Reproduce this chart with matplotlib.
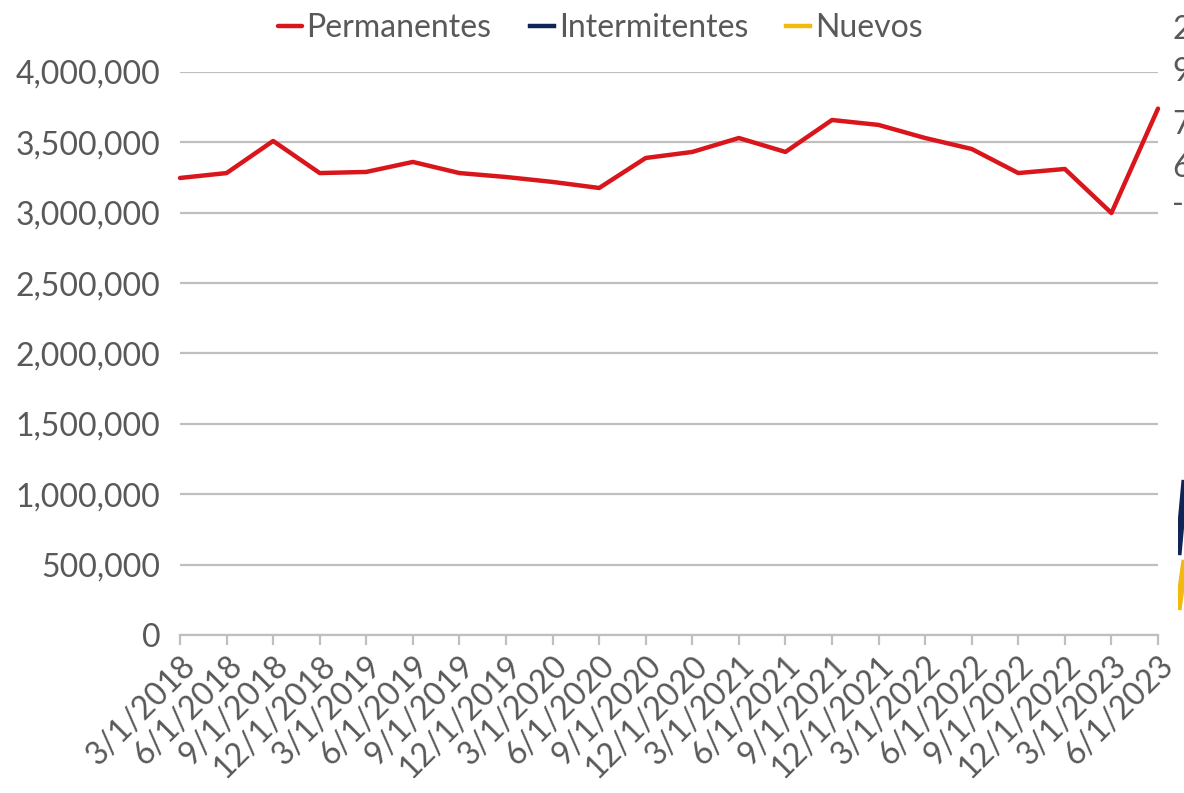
import matplotlib
matplotlib.use("Agg")
import matplotlib.pyplot as plt
from matplotlib.ticker import FuncFormatter

plt.rcParams['font.family'] = ['Lato', 'DejaVu Sans']

fechas = ["3/1/2018", "6/1/2018", "9/1/2018", "12/1/2018",
          "3/1/2019", "6/1/2019", "9/1/2019", "12/1/2019",
          "3/1/2020", "6/1/2020", "9/1/2020", "12/1/2020",
          "3/1/2021", "6/1/2021", "9/1/2021", "12/1/2021",
          "3/1/2022", "6/1/2022", "9/1/2022", "12/1/2022",
          "3/1/2023", "6/1/2023"]
permanentes = [3247000, 3282000, 3510000, 3282000, 3290000, 3361000,
               3282000, 3254000, 3219000, 3176000, 3389000, 3432000,
               3531000, 3432000, 3659000, 3624000, 3531000, 3453000,
               3282000, 3311000, 2998000, 3740000]

# bits of the neighbouring chart that show at the right edge
vecino_etiquetas = ["2", "9", "7", "6", "-"]
vecino_y = [0.962, 0.909, 0.842, 0.788, 0.741]
intermitentes_cola = [568000, 1101000]
nuevos_cola = [178000, 533000]

gris = "#595959"
rojo = "#d9161c"
azul = "#0f2557"
amarillo = "#f2b90f"

fig = plt.figure(figsize=(11.84, 7.93), dpi=100)
ax = fig.add_axes([180/1184, 158/793, 978/1184, 563/793])

x = list(range(len(fechas)))
ax.plot(x, permanentes, color=rojo, lw=3.2, solid_capstyle='round',
        clip_on=False, zorder=3, label="Permanentes")
# empty handles just for the legend
ax.plot([], [], color=azul, lw=3.2, label="Intermitentes")
ax.plot([], [], color=amarillo, lw=3.2, label="Nuevos")

ax.set_xlim(0, len(fechas) - 1)
ax.set_ylim(0, 4000000)
ax.set_yticks(range(0, 4000001, 500000))
ax.yaxis.set_major_formatter(FuncFormatter(lambda v, p: f"{int(v):,}"))
ax.set_xticks(x)
ax.set_xticklabels(fechas, rotation=45, ha='right', rotation_mode='anchor')

ax.grid(axis='y', color="#bfbfbf", lw=1.6)
ax.set_axisbelow(True)
for s in ['top', 'right', 'left']:
    ax.spines[s].set_visible(False)
ax.spines['bottom'].set_color("#bfbfbf")
ax.spines['bottom'].set_linewidth(1.6)
ax.tick_params(axis='y', length=0, pad=14, labelsize=23, labelcolor=gris)
ax.tick_params(axis='x', length=7, width=1.6, color="#bfbfbf", pad=4,
               labelsize=23, labelcolor=gris)

leg = fig.legend(loc='upper center', bbox_to_anchor=(0.507, 1.02), ncol=3,
                 frameon=False, fontsize=23, handlelength=0.75,
                 handletextpad=0.15, columnspacing=1.2)
for t in leg.get_texts():
    t.set_color(gris)

# cut-off neighbour chart on the right
for et, yy in zip(vecino_etiquetas, vecino_y):
    fig.text(1172/1184, yy, et, fontsize=23, color=gris, va='center', ha='left')
ax2 = fig.add_axes([1178/1184, 158/793, 7/1184, 563/793])
ax2.plot([0, 1], intermitentes_cola, color=azul, lw=5, solid_capstyle='butt')
ax2.plot([0, 1], nuevos_cola, color=amarillo, lw=5, solid_capstyle='butt')
ax2.set_xlim(0, 1)
ax2.set_ylim(0, 4000000)
ax2.axis('off')

fig.savefig("out.png", dpi=100)
